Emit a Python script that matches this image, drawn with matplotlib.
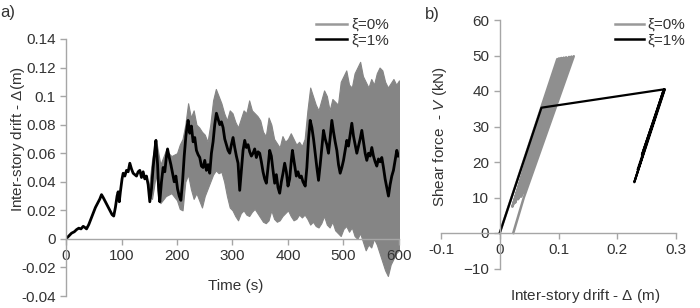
import matplotlib
matplotlib.use("Agg")
import matplotlib.pyplot as plt
from matplotlib.lines import Line2D

plt.rcParams['font.family'] = ['Liberation Sans', 'DejaVu Sans']
plt.rcParams['mathtext.fontset'] = 'custom'
plt.rcParams['mathtext.rm'] = 'Liberation Sans'
plt.rcParams['mathtext.it'] = 'Liberation Sans:italic'

# ---------------- data: panel a) time history ----------------
black_t = [0, 5, 10, 15, 19, 23, 27, 31, 34, 37, 41, 45, 49, 53, 57, 61, 64, 67, 71, 75,
           79, 83, 86, 89, 92, 94, 96, 98, 101, 103, 106, 109, 112, 115, 118, 121, 124, 127,
           130, 133, 136, 139, 142, 145, 148, 151, 154, 157, 160, 162, 165, 167, 169, 172,
           175, 178, 181, 183, 186, 189, 192, 195, 198, 201, 204, 207, 210, 213, 216, 218,
           220, 223, 226, 229, 232, 235, 238, 241, 244, 247, 250, 253, 256, 259, 262, 265,
           268, 271, 274, 277, 280, 283, 286, 289, 292, 295, 298, 301, 304, 307, 310, 313,
           316, 319, 322, 325, 328, 331, 334, 337, 340, 343, 346, 349, 352, 355, 358, 361,
           364, 367, 370, 373, 376, 379, 382, 385, 388, 391, 394, 397, 400, 403, 406, 408,
           411, 415, 418, 421, 424, 427, 431, 434, 437, 440, 443, 446, 449, 452, 455, 458,
           461, 464, 467, 470, 473, 476, 479, 482, 485, 488, 491, 494, 497, 500, 503, 506,
           509, 512, 515, 518, 521, 524, 527, 530, 533, 536, 539, 542, 545, 548, 551, 554,
           557, 560, 563, 566, 569, 572, 575, 578, 581, 584, 587, 590, 593, 596, 599]
black_v = [0.000, 0.002, 0.004, 0.005, 0.0065, 0.0075, 0.007, 0.0088, 0.008, 0.007, 0.010,
           0.014, 0.018, 0.022, 0.025, 0.028, 0.031, 0.029, 0.026, 0.023, 0.020, 0.017,
           0.016, 0.022, 0.030, 0.033, 0.026, 0.033, 0.042, 0.046, 0.044, 0.048, 0.047,
           0.053, 0.049, 0.046, 0.045, 0.044, 0.047, 0.048, 0.043, 0.047, 0.042, 0.044,
           0.038, 0.026, 0.035, 0.050, 0.062, 0.069, 0.052, 0.034, 0.026, 0.040, 0.050,
           0.047, 0.058, 0.063, 0.057, 0.052, 0.046, 0.040, 0.044, 0.035, 0.030, 0.027,
           0.040, 0.058, 0.072, 0.078, 0.083, 0.074, 0.079, 0.068, 0.071, 0.062, 0.059,
           0.057, 0.051, 0.050, 0.055, 0.048, 0.052, 0.046, 0.060, 0.068, 0.080, 0.088,
           0.084, 0.080, 0.082, 0.078, 0.070, 0.066, 0.062, 0.060, 0.066, 0.071, 0.064,
           0.058, 0.053, 0.034, 0.048, 0.062, 0.069, 0.064, 0.066, 0.061, 0.058, 0.060,
           0.063, 0.057, 0.061, 0.060, 0.054, 0.047, 0.042, 0.039, 0.050, 0.062, 0.058,
           0.048, 0.039, 0.045, 0.036, 0.032, 0.040, 0.046, 0.053, 0.047, 0.037, 0.042,
           0.055, 0.062, 0.054, 0.044, 0.047, 0.043, 0.044, 0.040, 0.037, 0.050, 0.070,
           0.083, 0.078, 0.070, 0.060, 0.050, 0.041, 0.052, 0.064, 0.076, 0.070, 0.066,
           0.060, 0.071, 0.083, 0.075, 0.068, 0.062, 0.052, 0.046, 0.050, 0.055, 0.062,
           0.069, 0.065, 0.073, 0.081, 0.072, 0.066, 0.060, 0.065, 0.070, 0.076, 0.068,
           0.060, 0.055, 0.060, 0.058, 0.064, 0.058, 0.054, 0.051, 0.056, 0.054, 0.057,
           0.050, 0.042, 0.036, 0.030, 0.038, 0.044, 0.048, 0.055, 0.062, 0.058]

grey_t = [150, 155, 162, 170, 180, 190, 200, 205, 210, 215, 220, 225, 230, 235,
          240, 245, 250, 255, 260, 265, 270, 275, 280, 285, 290, 295, 300, 305, 310, 315,
          320, 325, 330, 335, 340, 345, 350, 355, 360, 365, 370, 375, 380, 385, 390, 395,
          400, 405, 410, 415, 420, 425, 430, 435, 440, 445, 450, 455, 460, 465, 470, 475,
          480, 485, 490, 495, 500, 505, 510, 515, 520, 525, 530, 535, 540, 545, 550, 555,
          560, 565, 570, 575, 580, 585, 590, 595, 600]
grey_upper = [0.038, 0.055, 0.070, 0.052, 0.062, 0.058, 0.060, 0.066,
              0.070, 0.080, 0.095, 0.085, 0.090, 0.080, 0.078, 0.075, 0.073, 0.068, 0.080,
              0.097, 0.105, 0.100, 0.095, 0.088, 0.083, 0.090, 0.088, 0.082, 0.078, 0.084,
              0.090, 0.088, 0.097, 0.090, 0.088, 0.086, 0.083, 0.075, 0.072, 0.085, 0.080,
              0.070, 0.067, 0.064, 0.072, 0.068, 0.070, 0.074, 0.070, 0.066, 0.068, 0.065,
              0.070, 0.090, 0.106, 0.100, 0.094, 0.090, 0.097, 0.104, 0.100, 0.090, 0.098,
              0.096, 0.094, 0.110, 0.114, 0.118, 0.108, 0.106, 0.116, 0.120, 0.124, 0.114,
              0.110, 0.106, 0.112, 0.108, 0.116, 0.120, 0.118, 0.110, 0.106, 0.109, 0.112,
              0.108, 0.111]
grey_lower = [0.030, 0.028, 0.045, 0.025, 0.030, 0.032, 0.027, 0.021,
              0.020, 0.040, 0.045, 0.035, 0.028, 0.032, 0.027, 0.022, 0.030, 0.035, 0.040,
              0.045, 0.048, 0.046, 0.047, 0.040, 0.030, 0.022, 0.020, 0.016, 0.013, 0.018,
              0.020, 0.017, 0.016, 0.019, 0.021, 0.018, 0.015, 0.012, 0.011, 0.013, 0.020,
              0.014, 0.012, 0.013, 0.016, 0.018, 0.020, 0.016, 0.013, 0.014, 0.017, 0.015,
              0.017, 0.014, 0.010, 0.012, 0.009, 0.008, 0.011, 0.016, 0.010, 0.008, 0.012,
              0.006, 0.004, 0.002, 0.007, 0.009, 0.005, 0.008, 0.002, 0.000, 0.004, -0.002,
              -0.008, -0.004, -0.006, 0.000, -0.004, -0.010, -0.016, -0.022, -0.026, -0.018,
              -0.014, -0.010, -0.008]

# ---------------- data: panel b) hysteresis ----------------
grey_drift = [0.000, 0.098, 0.0215, 0.101, 0.026, 0.105, 0.031, 0.109, 0.036, 0.113,
              0.041, 0.118, 0.046, 0.122, 0.050, 0.126, 0.041, 0.023]
grey_force = [0.0, 49.0, 7.4, 49.2, 8.5, 49.3, 9.5, 49.4, 10.2, 49.5,
              11.2, 49.6, 14.0, 49.7, 18.0, 49.8, 10.0, 0.0]
black_drift = [0.000, 0.071, 0.281, 0.229, 0.279, 0.242, 0.280, 0.235]
black_force = [0.0, 35.3, 40.5, 14.3, 40.3, 22.0, 40.4, 18.0]

legend_labels = ['ξ=0%', 'ξ=1%']

GREY = '#858585'
AXC = '#a6a6a6'
TXT = '#333333'
FS = 11

fig = plt.figure(figsize=(7.0, 3.08), dpi=100)
W, H = 700, 308


def frac_axes(l, r, t, b):
    return [l / W, 1 - b / H, (r - l) / W, (b - t) / H]


def style(ax):
    ax.spines['top'].set_visible(False)
    ax.spines['right'].set_visible(False)
    for s in ('left', 'bottom'):
        ax.spines[s].set_color(AXC)
        ax.spines[s].set_linewidth(1.0)
    ax.spines['left'].set_position(('data', 0))
    ax.spines['bottom'].set_position(('data', 0))
    ax.tick_params(axis='both', colors=AXC, labelcolor=TXT, labelsize=FS,
                   direction='out', length=4, width=1.0)
    ax.patch.set_visible(False)


# ---- panel a
ax1 = fig.add_axes(frac_axes(66, 399, 39, 296))
ax1.fill_between(grey_t, grey_lower, grey_upper, color=GREY, lw=0.8, edgecolor=GREY)
ax1.plot(black_t, black_v, color='black', lw=2.0)
ax1.set_xlim(0, 600)
ax1.set_ylim(-0.04, 0.14)
ax1.set_xticks([0, 100, 200, 300, 400, 500, 600])
ax1.set_yticks([-0.04, -0.02, 0, 0.02, 0.04, 0.06, 0.08, 0.1, 0.12, 0.14])
ax1.set_yticklabels(['-0.04', '-0.02', '0', '0.02', '0.04', '0.06', '0.08', '0.1', '0.12', '0.14'])
style(ax1)
ax1.set_xlabel('Time (s)', fontsize=FS, color=TXT)
ax1.xaxis.set_label_coords(0.51, 0.04)
ax1.xaxis.label.set_va('center')
ax1.set_ylabel('Inter-story drift - $\\mathit{Δ}$(m)', fontsize=FS, color=TXT)
ax1.yaxis.set_label_coords(-0.144, 0.61)
ax1.yaxis.label.set_va('center')

h = [Line2D([], [], color='#999999', lw=1.8), Line2D([], [], color='black', lw=1.8)]
ax1.legend(h, legend_labels, loc='upper left', bbox_to_anchor=(316 / W, 1 - 18 / H),
           bbox_transform=fig.transFigure, frameon=False, fontsize=FS, borderpad=0,
           borderaxespad=0, handlelength=2.0, handletextpad=0.3, labelspacing=0.1,
           labelcolor=TXT)

# ---- panel b
ax2 = fig.add_axes(frac_axes(441, 676, 20, 268.5))
ax2.plot(grey_drift, grey_force, color='#8f8f8f', lw=1.8)
ax2.plot(black_drift, black_force, color='black', lw=1.6)
ax2.set_xlim(-0.1, 0.3)
ax2.set_ylim(-10, 60)
ax2.set_xticks([-0.1, 0, 0.1, 0.2, 0.3])
ax2.set_xticklabels(['-0.1', '0', '0.1', '0.2', '0.3'])
ax2.set_yticks([-10, 0, 10, 20, 30, 40, 50, 60])
style(ax2)
ax2.set_xlabel('Inter-story drift - $\\mathit{Δ}$ (m)', fontsize=FS, color=TXT)
ax2.xaxis.set_label_coords(0.613, -0.11)
ax2.xaxis.label.set_va('center')
ax2.set_ylabel('Shear force  - $\\mathit{V}$ (kN)', fontsize=FS, color=TXT)
ax2.yaxis.set_label_coords(-0.005, 0.53)
ax2.yaxis.label.set_va('center')

h2 = [Line2D([], [], color='#999999', lw=1.8), Line2D([], [], color='black', lw=1.8)]
ax2.legend(h2, legend_labels, loc='upper left', bbox_to_anchor=(615 / W, 1 - 18 / H),
           bbox_transform=fig.transFigure, frameon=False, fontsize=FS, borderpad=0,
           borderaxespad=0, handlelength=1.9, handletextpad=0.2, labelspacing=0.1,
           labelcolor=TXT)

fig.text(0 / W, 1 - 12 / H, 'a)', fontsize=12, color=TXT, va='center', ha='left')
fig.text(425 / W, 1 - 15 / H, 'b)', fontsize=12, color=TXT, va='center', ha='left')

fig.savefig('out.png', dpi=100)
